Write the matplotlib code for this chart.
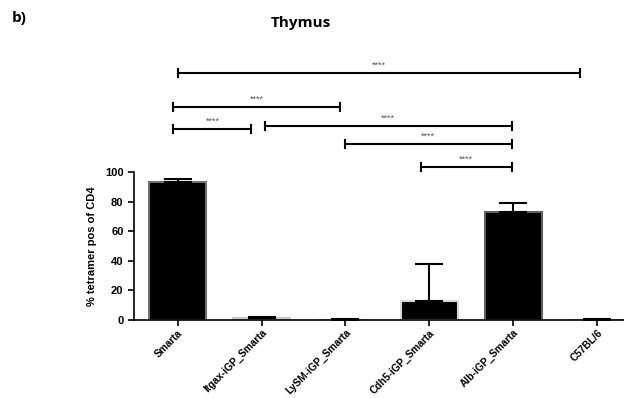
import matplotlib.pyplot as plt
import numpy as np

groups = ["Smarta", "Itgax-iGP_Smarta", "LySM-iGP_Smarta", "Cdh5-iGP_Smarta",
          "Alb-iGP_Smarta", "C57BL/6"]
means = [93.0, 1.2, 0.3, 13.0, 73.2, 0.3]
sem = [2.0, 0.8, 0.2, 24.6, 6.1, 0.1]
edges = ["#707070", "#c8c8c8", "#d0d0d0", "#d8d8d8", "#606060", "#b0b0b0"]

# significance brackets: (start, end, height, label)
brackets = [
    (0.0, 4.8, 167, "****"),
    (-0.05, 1.93, 144, "****"),
    (-0.05, 0.88, 129, "****"),
    (1.04, 3.98, 131, "****"),
    (1.99, 3.98, 119, "****"),
    (2.9, 3.98, 103.5, "****"),
]

plt.rcParams["font.family"] = ["Liberation Sans", "DejaVu Sans"]

fig = plt.figure(figsize=(6.24, 3.98), dpi=100)
ax = fig.add_axes([0.2147, 0.196, 0.7853, 0.372])

x = np.arange(len(groups))
ax.bar(x, means, width=0.68, color="black", edgecolor=edges, linewidth=1.5, zorder=2)
ax.errorbar(x, means, yerr=[np.zeros(len(sem)), sem], fmt="none", ecolor="black",
            elinewidth=1.5, capsize=10, capthick=1.5, zorder=3)

ax.set_xlim(-0.52, 5.32)
ax.set_ylim(0, 100)
ax.set_yticks([0, 20, 40, 60, 80, 100])
ax.set_xticks(x)
ax.set_xticklabels(groups, rotation=45, ha="right", rotation_mode="anchor",
                   fontsize=7.3, fontweight="bold")
for lab in ax.get_yticklabels():
    lab.set_fontweight("bold")
    lab.set_fontsize(8)
ax.tick_params(axis="both", length=4, width=1.2, colors="black")
ax.tick_params(axis="x", pad=1.5)
ax.spines["top"].set_visible(False)
ax.spines["right"].set_visible(False)
ax.spines["left"].set_linewidth(1.2)
ax.spines["bottom"].set_linewidth(1.2)
ax.set_ylabel("% tetramer pos of CD4", fontsize=8, fontweight="bold", labelpad=6)

for x0, x1, h, txt in brackets:
    ax.plot([x0, x1], [h, h], color="black", lw=1.5, clip_on=False)
    ax.plot([x0, x0], [h - 2.7, h + 2.7], color="black", lw=1.5, clip_on=False)
    ax.plot([x1, x1], [h - 2.7, h + 2.7], color="black", lw=1.5, clip_on=False)
    ax.text((x0 + x1) / 2, h + 2.2, txt, ha="center", va="bottom", fontsize=6.5,
            color="#555555", clip_on=False)

fig.text(301 / 624, 1 - 23 / 398, "Thymus", ha="center", va="center",
         fontsize=11, fontweight="bold", family=["Open Sans", "DejaVu Sans"])
fig.text(12 / 624, 1 - 18 / 398, "b)", ha="left", va="center",
         fontsize=11, fontweight="bold", family=["Open Sans", "DejaVu Sans"])

fig.savefig("out.png", dpi=100)
